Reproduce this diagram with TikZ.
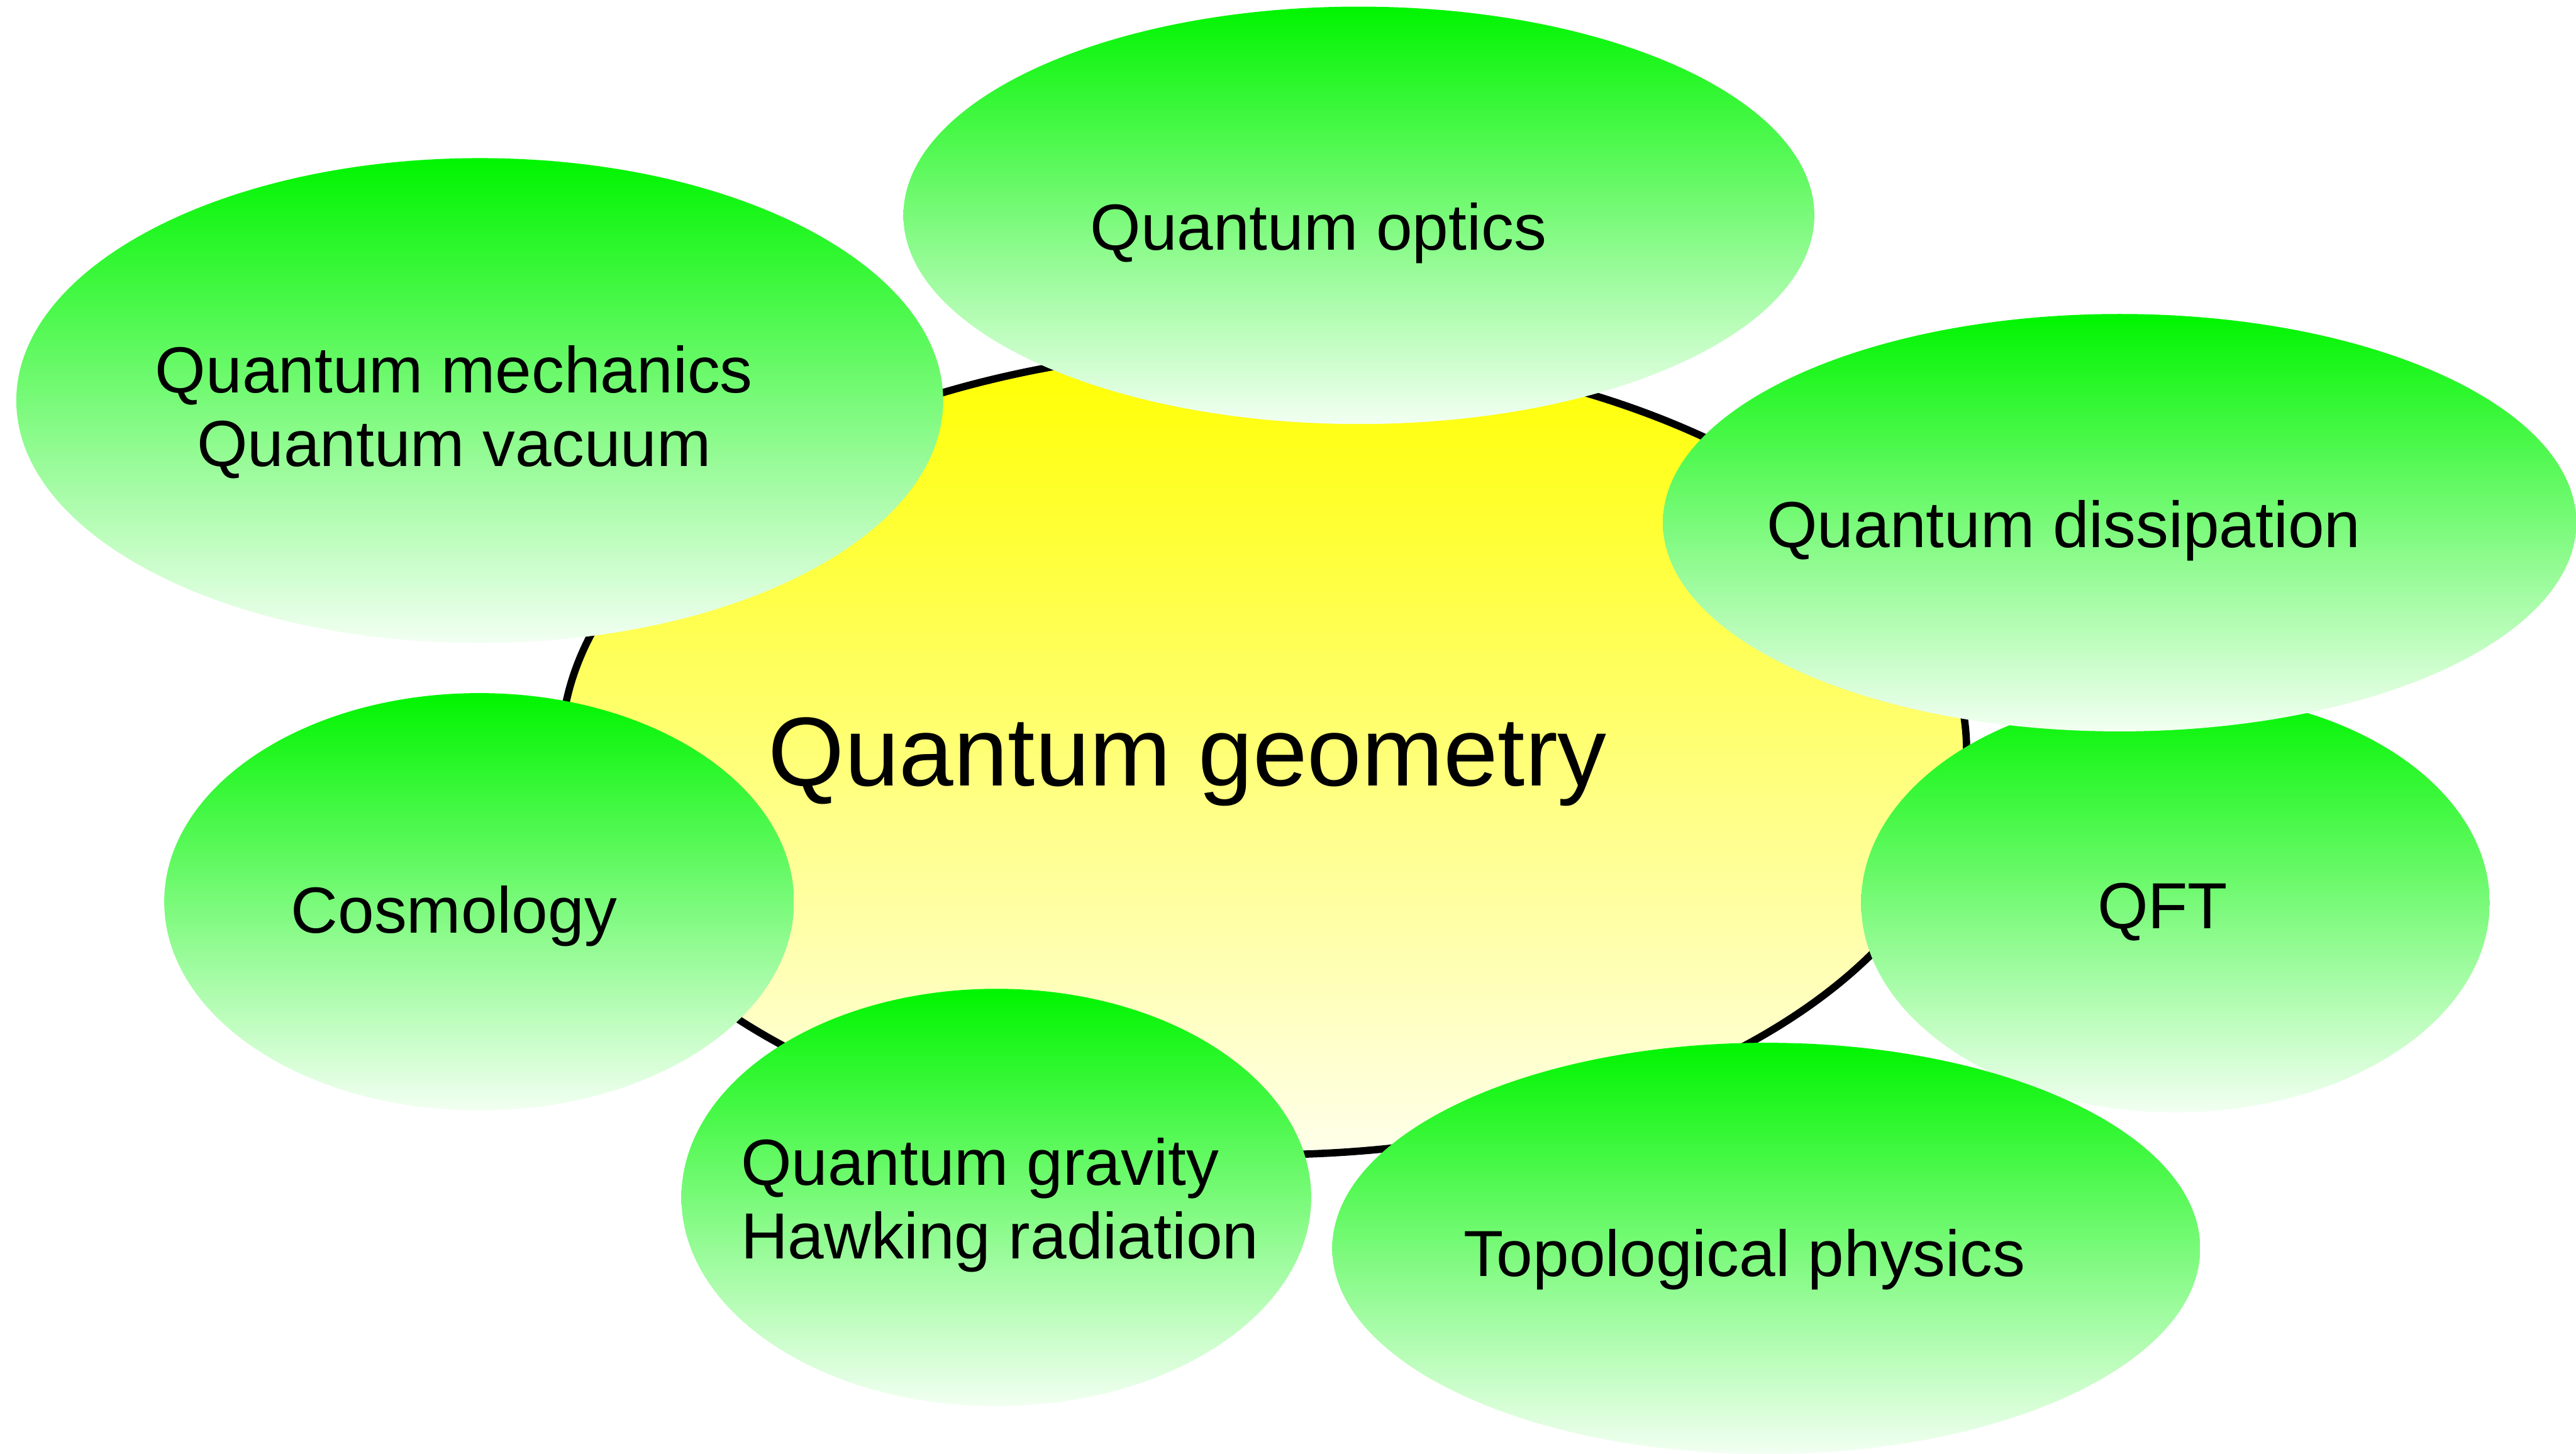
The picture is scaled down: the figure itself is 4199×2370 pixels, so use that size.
\documentclass[tikz,border=0pt]{standalone}
\usepackage{fontspec}
\setmainfont{Liberation Sans}
\usetikzlibrary{shapes.geometric}
\definecolor{gtop}{RGB}{0,245,0}
\definecolor{gbot}{RGB}{242,255,242}
\definecolor{ytop}{RGB}{255,255,0}
\definecolor{ybot}{RGB}{255,255,235}
\begin{document}
\begin{tikzpicture}[x=0.01cm,y=-0.01cm,
  blob/.style={ellipse, inner sep=0pt, outer sep=0pt, top color=gtop, bottom color=gbot, draw=none},
  core/.style={ellipse, inner sep=0pt, outer sep=0pt, top color=ytop, bottom color=ybot, draw=black, line width=3.4pt},
  lbl/.style={inner sep=0pt, font=\fontsize{30.2}{34.14}\selectfont, text=black, anchor=base},
  biglbl/.style={inner sep=0pt, font=\fontsize{45.4}{52}\selectfont, text=black, anchor=base}]
\useasboundingbox (0,0) rectangle (4199,2370);
% central ellipse
\node[core, minimum width=22.90cm, minimum height=13.14cm] (geo) at (2060,1225) {};
% surrounding ellipses
\node[blob, minimum width=15.10cm, minimum height=7.90cm] (qm) at (782,653) {};
\node[blob, minimum width=14.84cm, minimum height=6.80cm] (optics) at (2215,351) {};
\node[blob, minimum width=10.26cm, minimum height=6.80cm] (cosmo) at (781,1470) {};
\node[blob, minimum width=10.26cm, minimum height=6.80cm] (grav) at (1624,1952) {};
\node[blob, minimum width=10.24cm, minimum height=6.82cm] (qft) at (3546,1472) {};
\node[blob, minimum width=14.14cm, minimum height=6.70cm] (topo) at (2879,2035) {};
\node[blob, minimum width=14.88cm, minimum height=6.80cm] (diss) at (3455,852) {};
% labels
\node[biglbl] (tgeo) at (1936,1281) {Quantum geometry};
\node[lbl] (tqm) at (740,640) {\begin{tabular}[t]{@{}c@{}}Quantum mechanics\\Quantum vacuum\end{tabular}};
\node[lbl] (toptics) at (2149,407) {Quantum optics};
\node[lbl] (tdiss) at (3364,892) {Quantum dissipation};
\node[lbl] (tcosmo) at (740,1521) {Cosmology};
\node[lbl] (tqft) at (3525,1514) {QFT};
\node[lbl, anchor=base west] (tgrav) at (1207,1932) {\begin{tabular}[t]{@{}l@{}}Quantum gravity\\Hawking radiation\end{tabular}};
\node[lbl] (ttopo) at (2844,2081) {Topological physics};
\end{tikzpicture}
\end{document}
